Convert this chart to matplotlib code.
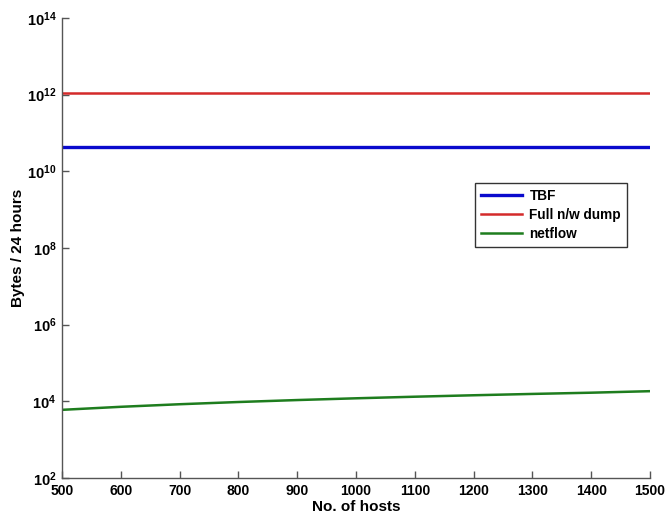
import matplotlib
matplotlib.use("Agg")
import matplotlib.pyplot as plt

hosts = [500, 600, 700, 800, 900, 1000, 1100, 1200, 1300, 1400, 1500]
tbf = [4.3e10] * 11
full_dump = [1.1e12] * 11
netflow = [6000, 7200, 8400, 9600, 10800, 12000, 13200, 14400, 15600, 16800, 18400]

series_labels = ["TBF", "Full n/w dump", "netflow"]
xticks = [500, 600, 700, 800, 900, 1000, 1100, 1200, 1300, 1400, 1500]
yticks = [1e2, 1e4, 1e6, 1e8, 1e10, 1e12, 1e14]
ytick_labels = [r"$\mathdefault{10^{2}}$", r"$\mathdefault{10^{4}}$", r"$\mathdefault{10^{6}}$",
                r"$\mathdefault{10^{8}}$", r"$\mathdefault{10^{10}}$", r"$\mathdefault{10^{12}}$",
                r"$\mathdefault{10^{14}}$"]

plt.rcParams['font.family'] = ['Liberation Sans', 'DejaVu Sans']
plt.rcParams['font.weight'] = 'bold'
plt.rcParams['mathtext.default'] = 'regular'

fig = plt.figure(figsize=(6.66, 5.19), dpi=100)
ax = fig.add_axes([62/666, 1 - 478/519, (650 - 62)/666, (478 - 18)/519])

ax.plot(hosts, tbf, color='#0a0acd', lw=2.4, label=series_labels[0])
ax.plot(hosts, full_dump, color='#d42a2a', lw=1.8, label=series_labels[1])
ax.plot(hosts, netflow, color='#1e7d1e', lw=1.8, label=series_labels[2])

ax.set_yscale('log')
ax.set_xlim(500, 1500)
ax.set_ylim(1e2, 1e14)
ax.set_xticks(xticks)
ax.set_xticklabels([str(v) for v in xticks])
ax.set_yticks(yticks)
ax.set_yticklabels(ytick_labels)
ax.minorticks_off()

for s in ['top', 'right']:
    ax.spines[s].set_visible(False)
for s in ['left', 'bottom']:
    ax.spines[s].set_color('#555555')
    ax.spines[s].set_linewidth(1.0)

ax.tick_params(direction='in', length=5, width=1, color='#555555', labelsize=10, pad=4)
ax.tick_params(axis='y', labelsize=10.5)
for lab in ax.get_xticklabels() + ax.get_yticklabels():
    lab.set_fontweight('bold')

ax.set_xlabel("No. of hosts", fontsize=11, fontweight='bold', labelpad=2)
ax.set_ylabel("Bytes / 24 hours", fontsize=11, fontweight='bold', labelpad=1)

leg = ax.legend(loc='upper left', bbox_to_anchor=(475/666, 1 - 183/519),
                bbox_transform=fig.transFigure, fontsize=9.8, frameon=True,
                fancybox=False, edgecolor='black', handlelength=3.0,
                handletextpad=0.55, borderpad=0.45, labelspacing=0.35,
                borderaxespad=0)
leg.get_frame().set_linewidth(1.0)
for t in leg.get_texts():
    t.set_fontweight('bold')

fig.savefig("out.png", dpi=100)
